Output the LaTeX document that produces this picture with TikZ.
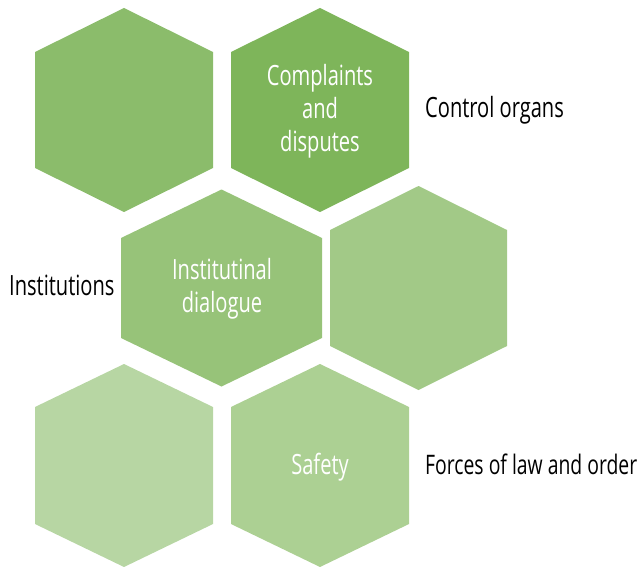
\documentclass[tikz,border=0pt]{standalone}
\usepackage{fontspec}
\setmainfont{Open Sans}[FakeStretch=0.72]
\begin{document}
\begin{tikzpicture}[x=1bp,y=-1bp,
  cellA/.style={fill={rgb,255:red,139;green,188;blue,107}},
  cellB/.style={fill={rgb,255:red,126;green,181;blue,90}},
  cellC/.style={fill={rgb,255:red,151;green,195;blue,121}},
  cellD/.style={fill={rgb,255:red,162;green,201;blue,135}},
  cellE/.style={fill={rgb,255:red,183;green,214;blue,163}},
  cellF/.style={fill={rgb,255:red,172;green,208;blue,147}},
  inlabel/.style={text=white,align=center,inner sep=0pt,
    font=\fontsize{28}{33}\selectfont},
  outlabel/.style={text=black,inner sep=0pt,anchor=base west,
    font=\fontsize{28}{30}\selectfont}]
\useasboundingbox (0,0) rectangle (643,567);

% top row
\fill[cellA] (124,8) -- (213,52) -- (213,168) -- (124,212) -- (35,168) -- (35,52) -- cycle;
\fill[cellB] (320,8) -- (409,52) -- (409,168) -- (320,212) -- (231,168) -- (231,52) -- cycle;
% middle row
\fill[cellC] (221.5,189.5) -- (322,238) -- (322,338) -- (221.5,386.5) -- (121,338) -- (121,238) -- cycle;
\fill[cellD] (418.5,186) -- (507,230) -- (507,346) -- (418.5,390) -- (330,346) -- (330,230) -- cycle;
% bottom row
\fill[cellE] (124,364) -- (213,407) -- (213,524) -- (124,567) -- (35,524) -- (35,407) -- cycle;
\fill[cellF] (320,364) -- (409,407) -- (409,524) -- (320,567) -- (231,524) -- (231,407) -- cycle;

% labels inside the cells
\node[inlabel] (complaints) at (320,111) {Complaints\\and\\disputes};
\node[inlabel] (dialogue) at (222,289) {Institutinal\\dialogue};
\node[inlabel,anchor=base] (safety) at (320,474) {Safety};

% labels beside the cells
\node[outlabel] (control) at (425,118) {Control organs};
\node[outlabel] (institutions) at (9,295) {Institutions};
\node[outlabel,font=\fontsize{27}{30}\selectfont] (forces) at (425,474) {Forces of law and order};
\end{tikzpicture}
\end{document}
